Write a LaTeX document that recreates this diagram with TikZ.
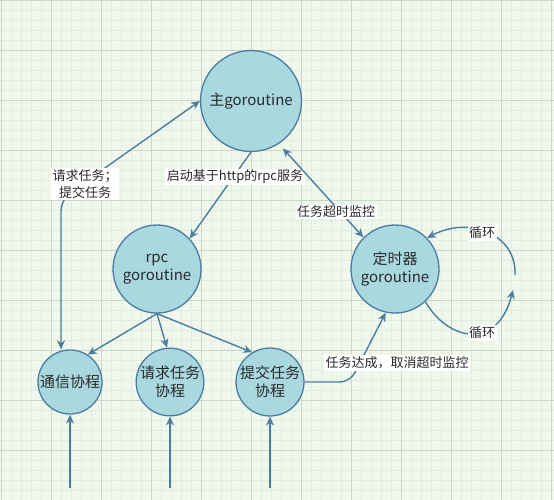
\documentclass[tikz,border=0pt]{standalone}
\usepackage{fontspec}
\setmainfont{Noto Sans CJK SC}
\usetikzlibrary{arrows.meta}
\definecolor{bgc}{HTML}{F0F8EE}
\definecolor{minorc}{HTML}{E1EDDE}
\definecolor{majorc}{HTML}{CBD6C8}
\definecolor{circfill}{HTML}{A9D8DF}
\definecolor{circdraw}{HTML}{4B7DA0}
\definecolor{txt}{HTML}{2A2A2A}
\tikzset{
  circ/.style={circle, draw=circdraw, fill=circfill, line width=1.3pt, inner sep=0pt,
    text=txt, align=center, font=\fontsize{15}{18}\selectfont},
  arr/.style={draw=circdraw, line width=1.4pt, -{Stealth[length=9pt,width=8pt]}},
  barr/.style={draw=circdraw, line width=1.4pt, {Stealth[length=9pt,width=8pt]}-{Stealth[length=9pt,width=8pt]}},
  lbl/.style={fill=white, inner sep=1.5pt, text=txt, align=center, font=\fontsize{13}{17}\selectfont}
}
\begin{document}
\begin{tikzpicture}[x=1pt,y=-1pt]
\useasboundingbox (0,0) rectangle (554,500);
\fill[bgc] (0,0) rectangle (554,500);
\foreach \v in {1.5,11.5,...,553} \draw[minorc, line width=0.8pt] (\v,0) -- (\v,500);
\foreach \v in {0,10,...,500} \draw[minorc, line width=0.8pt] (0,\v) -- (554,\v);
\foreach \v in {1.5,51.5,...,553} \draw[majorc, line width=0.9pt] (\v,0) -- (\v,500);
\foreach \v in {0,50,...,500} \draw[majorc, line width=0.9pt] (0,\v) -- (554,\v);

% nodes
\node[circ, minimum size=101pt] (main) at (251,101) {主goroutine};
\node[circ, minimum size=88pt] (rpc) at (157,269) {rpc\\goroutine};
\node[circ, minimum size=88pt] (timer) at (395,269) {定时器\\goroutine};
\node[circ, minimum size=64pt] (comm) at (70,382) {通信协程};
\node[circ, minimum size=64pt] (req) at (170,382) {请求任务\\协程};
\node[circ, minimum size=64pt] (sub) at (270,382) {提交任务\\协程};

\coordinate (lc) at (61,199);
\coordinate (b1) at (70,488);
\coordinate (b2) at (170,488);
\coordinate (b3) at (270,488);
\coordinate (la) at (513,290);
\coordinate (lb) at (515,275);
\coordinate (sc) at (350,382);

% connectors
\draw[barr, rounded corners=12pt] (lc |- comm.north) -- (lc) -- (main.west);
\node[lbl] (l1) at (85,184) {请求任务；\\提交任务};

\draw[arr] (main.south) -- (rpc.43);
\node[lbl] (l2) at (235,177) {启动基于http的rpc服务};

\draw[arr] (rpc.south) -- (comm.57);
\draw[arr] (rpc.south) -- (req.95);
\draw[arr] (rpc.south) -- (sub.121);

\draw[barr, shorten <=6pt] (main.-57) -- (timer.135);
\node[lbl] (l3) at (336,212) {任务超时监控};

\draw[arr] (timer.-47) .. controls (447,340) and (497,352) .. (la);
\draw[arr] (lb) .. controls (517,235) and (470,215) .. (timer.44);
\node[lbl] (l4) at (482,233) {循环};
\node[lbl] (l5) at (482,333) {循环};

\draw[arr, rounded corners=10pt] (sub.east) -- (sc) -- (timer.-102);
\node[lbl] (l6) at (397,363) {任务达成，取消超时监控};

\draw[arr] (b1) -- (comm.south);
\draw[arr] (b2) -- (req.south);
\draw[arr] (b3) -- (sub.south);
\end{tikzpicture}
\end{document}
